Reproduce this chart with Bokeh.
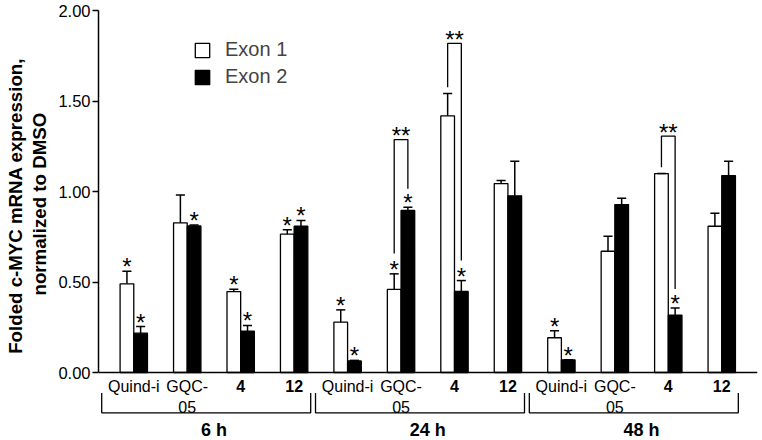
import numpy as np
from bokeh.plotting import figure
from bokeh.models import (Range1d, FixedTicker, NumeralTickFormatter, Span, Legend, LegendItem, Title)
from bokeh.core.properties import value
from bokeh.embed import file_html
from bokeh.resources import INLINE

# ---- data ----
compounds = ["Quind-i", "GQC-\n05", "4", "12"]
compound_bold = [False, False, True, True]
times = ["6 h", "24 h", "48 h"]
y_title = ["Folded c-MYC mRNA expression,", "normalized to DMSO"]

exon1 = [0.49, 0.827, 0.447, 0.764, 0.278, 0.459, 1.418, 1.044, 0.192, 0.670, 1.099, 0.808]
exon1_err = [0.070, 0.153, 0.013, 0.024, 0.068, 0.086, 0.123, 0.017, 0.038, 0.083, 0.0, 0.072]
exon2 = [0.217, 0.810, 0.228, 0.808, 0.064, 0.895, 0.448, 0.976, 0.070, 0.928, 0.317, 1.088]
exon2_err = [0.037, 0.005, 0.032, 0.032, 0.003, 0.018, 0.060, 0.191, 0.0, 0.035, 0.040, 0.079]
exon1_star = [1, 0, 1, 1, 1, 1, 0, 0, 1, 0, 0, 0]
exon2_star = [1, 1, 1, 1, 1, 1, 1, 0, 1, 0, 1, 0]

sig_group = [5, 6, 10]
sig_top = [1.287, 1.818, 1.306]
sig_left_end = [0.657, 1.576, 1.134]
sig_right_end = [1.015, 0.619, 0.462]

FONT = "Liberation Sans"
BW = 0.256
n = len(exon1)
xc = np.arange(n, dtype=float)
x1 = xc - BW / 2
x2 = xc + BW / 2

X0, X1 = -0.66, 11.669
p = figure(width=762, height=440, output_backend="svg", toolbar_location=None,
           x_range=Range1d(X0, X1), y_range=Range1d(-68 / 181, 2.0),
           min_border_left=98, min_border_right=5, min_border_top=10, min_border_bottom=0)
p.xaxis.visible = False
p.grid.visible = False
p.outline_line_color = None
p.background_fill_color = "white"

ya = p.yaxis[0]
ya.bounds = (0, 2)
ya.ticker = FixedTicker(ticks=[0, 0.5, 1.0, 1.5, 2.0])
ya.formatter = NumeralTickFormatter(format="0.00")
ya.minor_tick_line_color = None
ya.major_tick_out = 6
ya.major_tick_in = 0
ya.axis_line_width = 1.5
ya.major_tick_line_width = 1.5
ya.axis_line_color = "black"
ya.major_label_text_font = FONT
ya.major_label_text_font_size = "16.5px"
ya.major_label_text_color = "black"
ya.major_label_standoff = 2


def side_title(text, offset, standoff):
    t = Title(text=text, align="left", offset=offset, text_font=FONT, text_font_size="18.7px",
              text_font_style="bold", text_color="black")
    try:
        t.standoff = standoff
    except Exception:
        t.standoff = 0
    return t


# y-axis title: two left-side titles (inner line added first); offset measured from frame bottom
p.add_layout(side_title(y_title[1], 145, 11), "left")
p.add_layout(side_title(y_title[0], 86.7, -8), "left")

p.add_layout(Span(location=0, dimension="width", line_color="black", line_width=1.5))

# bars
r1 = p.vbar(x=x1, top=exon1, bottom=0, width=BW, fill_color="white", line_color="black", line_width=1.3)
r2 = p.vbar(x=x2, top=exon2, bottom=0, width=BW, fill_color="black", line_color="black", line_width=1.3)

# error bars (upper only)
CAP = 0.085
for xs, vals, errs in ((x1, exon1, exon1_err), (x2, exon2, exon2_err)):
    v = np.array(vals)
    e = np.array(errs)
    p.segment(x0=xs, y0=v, x1=xs, y1=v + e, line_color="black", line_width=1.5)
    p.segment(x0=xs - CAP, y0=v + e, x1=xs + CAP, y1=v + e, line_color="black", line_width=1.5)

# single stars
for xs, vals, errs, st in ((x1, exon1, exon1_err, exon1_star), (x2, exon2, exon2_err, exon2_star)):
    sx = [x for x, s in zip(xs, st) if s]
    sy = [v + e for v, e, s in zip(vals, errs, st) if s]
    p.text(x=sx, y=sy, text=["*"] * len(sx), text_font=value(FONT), text_font_size="24px",
           text_align="center", text_baseline="middle", y_offset=-4.5, text_color="black")

# significance brackets
bx = [[g - BW / 2, g - BW / 2, g + BW / 2, g + BW / 2] for g in sig_group]
by = [[a, t, t, b] for a, t, b in zip(sig_left_end, sig_top, sig_right_end)]
p.multi_line(xs=bx, ys=by, line_color="black", line_width=1.3)
p.text(x=[float(g) for g in sig_group], y=sig_top, text=["**"] * len(sig_group), text_font=value(FONT),
       text_font_size="24px", text_align="center", text_baseline="middle", y_offset=-4, text_color="black")

# category labels
ncomp = len(compounds)
lab_x_n, lab_n, lab_x_b, lab_b, lab2_x, lab2 = [], [], [], [], [], []
for i in range(n):
    c = compounds[i % ncomp]
    parts = c.split("\n")
    if compound_bold[i % ncomp]:
        lab_x_b.append(xc[i]); lab_b.append(parts[0])
    else:
        lab_x_n.append(xc[i]); lab_n.append(parts[0])
    if len(parts) > 1:
        lab2_x.append(xc[i]); lab2.append(parts[1])

Y_L1 = -0.0762
Y_L2 = -0.1906
p.text(x=lab_x_n, y=[Y_L1] * len(lab_n), text=lab_n, text_font=value(FONT), text_font_size="16px",
       text_align="center", text_baseline="middle", text_color="black")
p.text(x=lab_x_b, y=[Y_L1] * len(lab_b), text=lab_b, text_font=value(FONT), text_font_size="16px",
       text_font_style="bold", text_align="center", text_baseline="middle", text_color="black")
p.text(x=lab2_x, y=[Y_L2] * len(lab2), text=lab2, text_font=value(FONT), text_font_size="16px",
       text_align="center", text_baseline="middle", text_color="black")

# time group brackets
Y_BT = -0.113
Y_BB = -0.223
gx, gy, tx = [], [], []
for k in range(len(times)):
    first = k * ncomp
    last = first + ncomp - 1
    l = first - 0.6
    r = last + 0.31
    gx.append([l, l, r, r]); gy.append([Y_BT, Y_BB, Y_BB, Y_BT])
    tx.append((first + last) / 2)
p.multi_line(xs=gx, ys=gy, line_color="black", line_width=1.3)
p.text(x=tx, y=[-57 / 181] * len(times), text=times, text_font=value(FONT), text_font_size="18px",
       text_font_style="bold", text_align="center", text_baseline="middle", text_color="black")

legend = Legend(items=[LegendItem(label="Exon 1", renderers=[r1]), LegendItem(label="Exon 2", renderers=[r2])],
                location=(95, 352), padding=0, margin=0, spacing=4, glyph_width=18, glyph_height=18,
                label_standoff=14, label_text_font=FONT, label_text_font_size="20px",
                border_line_color=None, background_fill_alpha=0)
p.add_layout(legend)

open("out.html", "w").write(file_html(p, INLINE))
